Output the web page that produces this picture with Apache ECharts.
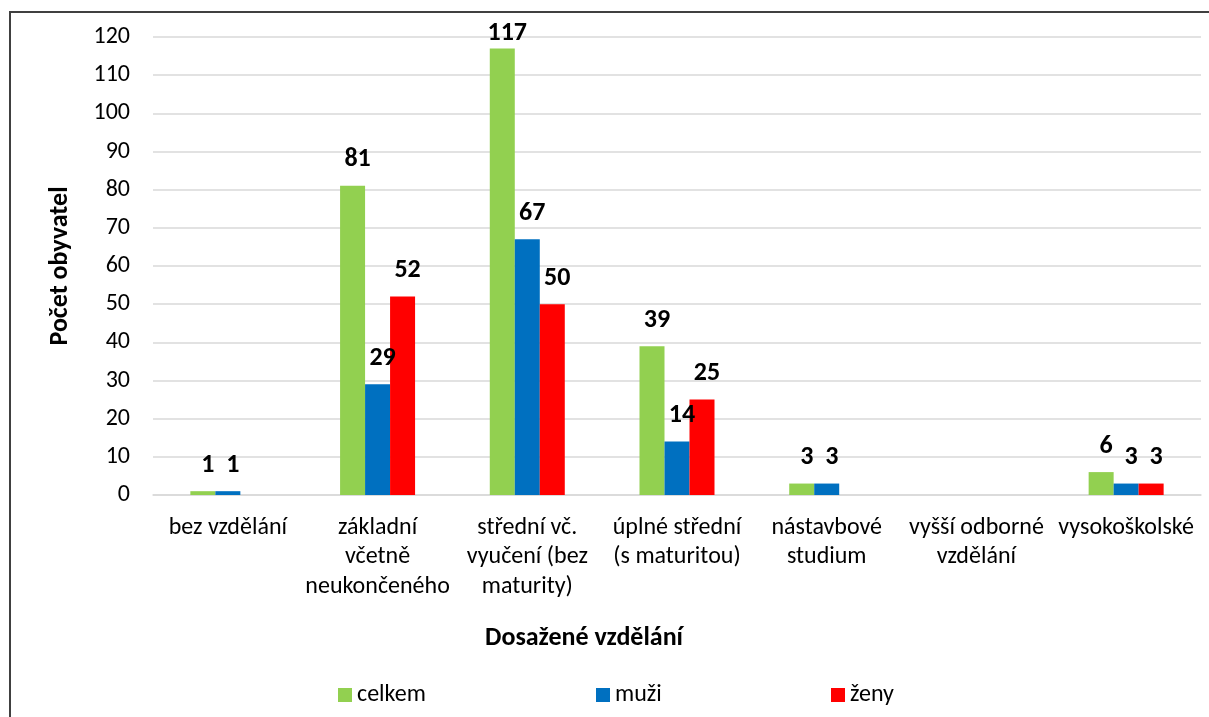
<!DOCTYPE html>
<html>
<head>
<meta charset="utf-8">
<title>Dosažené vzdělání</title>
<script src="https://cdn.jsdelivr.net/npm/echarts@6/dist/echarts.min.js"></script>
<style>
  html, body { margin: 0; padding: 0; background: #fff; }
  #chart { width: 1209px; height: 717px; }
</style>
</head>
<body>
<div id="chart"></div>
<script>
var categories = [
  'bez vzdělání',
  'základní\nvčetně\nneukončeného',
  'střední vč.\nvyučení (bez\nmaturity)',
  'úplné střední\n(s maturitou)',
  'nástavbové\nstudium',
  'vyšší odborné\nvzdělání',
  'vysokoškolské'
];
var celkem = [1, 81, 117, 39, 3, 0, 6];
var muzi = [1, 29, 67, 14, 3, 0, 3];
var zeny = [0, 52, 50, 25, 0, 0, 3];
var yTicks = [0, 10, 20, 30, 40, 50, 60, 70, 80, 90, 100, 110, 120];

var font = 'Carlito, Calibri, "Open Sans", sans-serif';
var chart = echarts.init(document.getElementById('chart'));

// label near the top of the plot gets pushed down a bit, like in Excel
function toData(arr) {
  return arr.map(function (v) {
    if (v > 112) return { value: v, label: { distance: 2 } };
    return v;
  });
}

function makeSeries(name, color, arr) {
  return {
    name: name,
    type: 'bar',
    data: toData(arr),
    barWidth: 25,
    barGap: '0%',
    itemStyle: { color: color },
    label: {
      show: true,
      position: 'top',
      distance: 13,
      offset: [5, 0],
      color: '#000',
      fontFamily: font,
      fontWeight: 'bold',
      fontSize: 26,
      formatter: function (p) { return p.value === 0 ? '' : p.value; }
    }
  };
}

function legendAt(left, name) {
  return {
    left: left,
    top: 678,
    data: [name],
    icon: 'rect',
    itemWidth: 14,
    itemHeight: 14,
    itemGap: 6,
    textStyle: { fontFamily: font, fontSize: 24, color: '#000' }
  };
}

var options = {
  animation: false,
  textStyle: { fontFamily: font },
  graphic: [{
    type: 'rect',
    shape: { x: 10, y: 12, width: 1400, height: 900 },
    style: { fill: 'none', stroke: '#404040', lineWidth: 2 },
    silent: true
  }],
  title: {
    text: 'Dosažené vzdělání',
    left: 579,
    top: 620,
    textAlign: 'center',
    textStyle: { fontFamily: font, fontSize: 26, fontWeight: 'bold', color: '#000' }
  },
  legend: [
    legendAt(333, 'celkem'),
    legendAt(591, 'muži'),
    legendAt(826, 'ženy')
  ],
  grid: { left: 153, right: 8, top: 37, bottom: 222 },
  xAxis: {
    type: 'category',
    data: categories,
    axisTick: { show: false },
    axisLine: { lineStyle: { color: '#d9d9d9', width: 1.5 } },
    axisLabel: {
      color: '#000',
      fontFamily: font,
      fontSize: 24,
      lineHeight: 29.5,
      margin: 18,
      interval: 0
    }
  },
  yAxis: {
    type: 'value',
    min: yTicks[0],
    max: yTicks[yTicks.length - 1],
    interval: 10,
    name: 'Počet obyvatel',
    nameLocation: 'middle',
    nameGap: 80,
    nameTextStyle: { fontFamily: font, fontSize: 26, fontWeight: 'bold', color: '#000' },
    axisLine: { show: false },
    axisTick: { show: false },
    splitLine: { lineStyle: { color: '#d9d9d9', width: 1.5 } },
    axisLabel: { color: '#000', fontFamily: font, fontSize: 24, margin: 23 }
  },
  series: [
    makeSeries('celkem', '#92d050', celkem),
    makeSeries('muži', '#0070c0', muzi),
    makeSeries('ženy', '#ff0000', zeny)
  ]
};

chart.setOption(options);
</script>
</body>
</html>
